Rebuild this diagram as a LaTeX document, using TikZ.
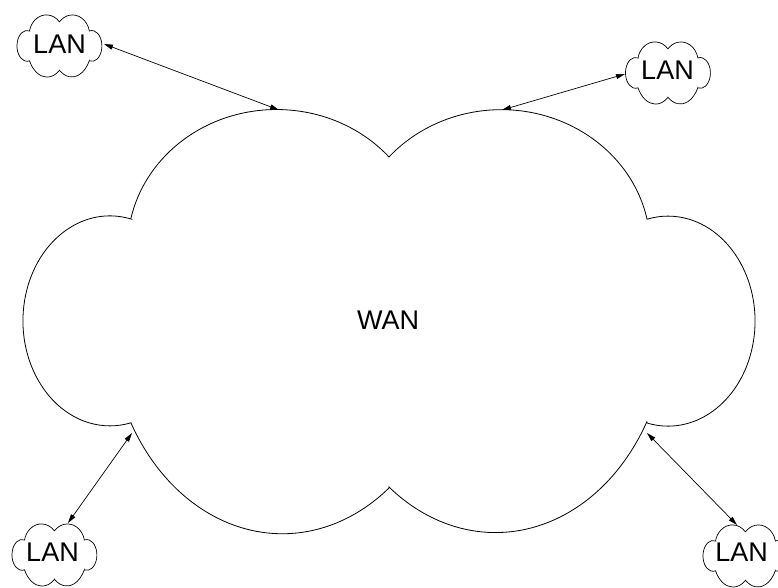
\documentclass[tikz,border=0pt]{standalone}
\usepackage{fontspec}
\setmainfont{Liberation Sans}
\usetikzlibrary{arrows.meta}
\newcommand\lobecloud[1]{%
  \draw[#1] (389,431) arc[start angle=41,end angle=168,x radius=149pt,y radius=138pt]
    -- (131,369) arc[start angle=76,end angle=284,x radius=87pt,y radius=105pt]
    -- (131,165) arc[start angle=209,end angle=308,x radius=173pt,y radius=215pt]
    -- (389,101) arc[start angle=232,end angle=331,x radius=173pt,y radius=215pt]
    -- (647,165) arc[start angle=-104,end angle=104,x radius=87pt,y radius=105pt]
    -- (647,369) arc[start angle=12,end angle=139,x radius=149pt,y radius=138pt]
    -- cycle;}
\tikzset{
  cloudline/.style={draw=black, line width=0.8pt},
  lanline/.style={draw=black, line width=0.7pt},
  label text/.style={font=\fontsize{27}{31}\selectfont, inner sep=0pt},
  link/.style={{Triangle[length=9pt,width=5pt]}-{Triangle[length=9pt,width=5pt]}, line width=0.7pt},
  lanat/.style args={#1,#2}{shift={(#1,#2)}, xscale=0.116, yscale=0.1466, shift={(-389.5,-266.5)}}
}
\begin{document}
\begin{tikzpicture}[x=1pt,y=1pt]
\useasboundingbox (0,0) rectangle (778,588);
% WAN cloud
\lobecloud{cloudline}
\node[label text] (wan) at (388,268) {WAN};
% LAN clouds
\begin{scope}[lanat={59.5,542}]\lobecloud{lanline}\end{scope}
\begin{scope}[lanat={668,515}]\lobecloud{lanline}\end{scope}
\begin{scope}[lanat={54.5,33}]\lobecloud{lanline}\end{scope}
\begin{scope}[lanat={745.5,32}]\lobecloud{lanline}\end{scope}
\node[label text] (lanTL) at (59.5,544) {LAN};
\node[label text] (lanTR) at (667.5,518) {LAN};
\node[label text] (lanBL) at (52.5,36) {LAN};
\node[label text] (lanBR) at (741.5,35.5) {LAN};
% connector ends
\coordinate (tlL) at (104,544);
\coordinate (tlW) at (279,478);
\coordinate (trL) at (625,514);
\coordinate (trW) at (502,478);
\coordinate (blL) at (68,65);
\coordinate (blW) at (132,155);
\coordinate (brL) at (737,63);
\coordinate (brW) at (647,155);
\draw[link] (tlL) -- (tlW);
\draw[link] (trL) -- (trW);
\draw[link] (blL) -- (blW);
\draw[link] (brL) -- (brW);
\end{tikzpicture}
\end{document}
